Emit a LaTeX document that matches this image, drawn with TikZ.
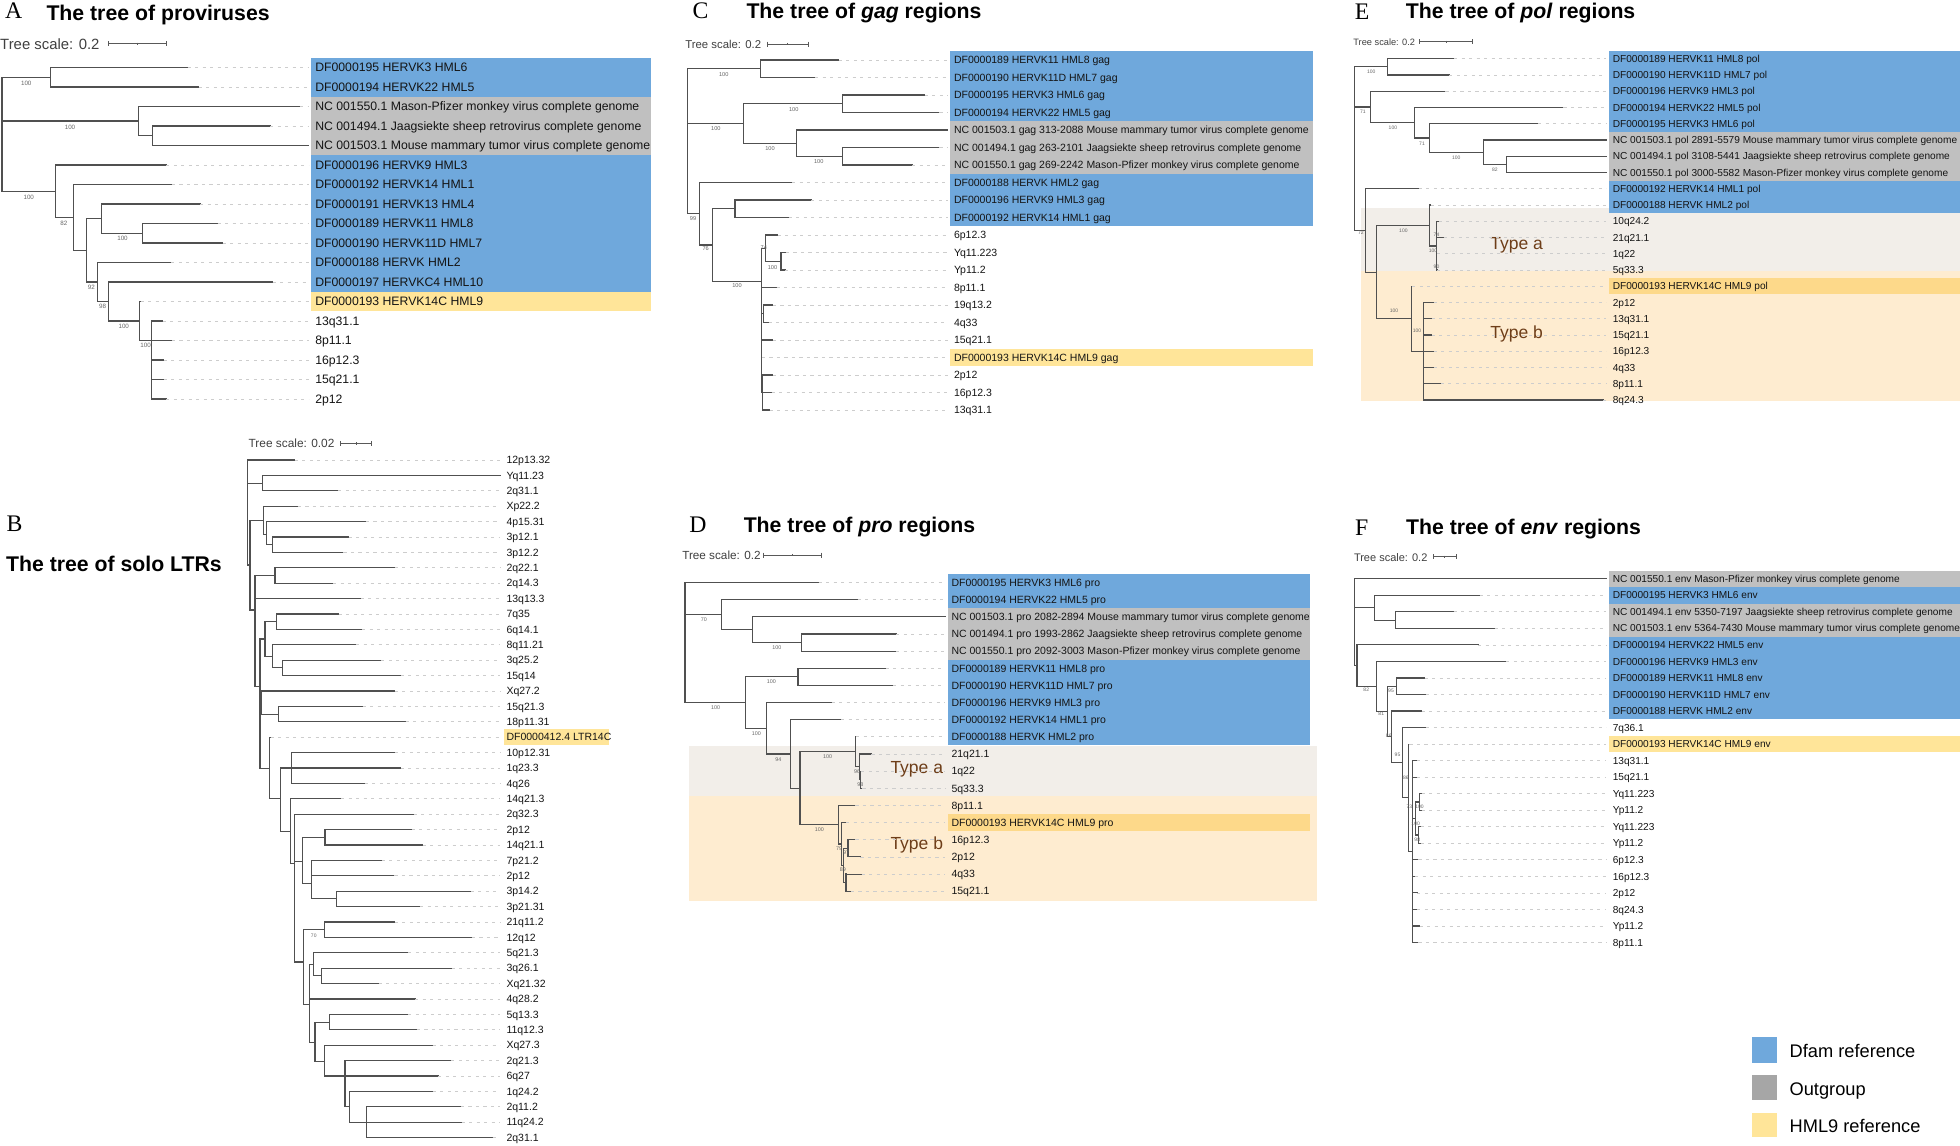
\documentclass[tikz,border=0pt]{standalone}
\usepackage{fontspec}
\setmainfont{Liberation Sans}
\newfontfamily\serifletter{Liberation Serif}
\definecolor{bblue}{RGB}{111,168,220}
\definecolor{bgray}{RGB}{192,192,192}
\definecolor{lgray}{RGB}{166,166,166}
\definecolor{byel}{RGB}{255,229,153}
\definecolor{byeltwo}{RGB}{253,217,138}
\definecolor{tya}{RGB}{242,238,233}
\definecolor{tyb}{RGB}{254,236,208}
\definecolor{tybr}{RGB}{110,62,25}
\definecolor{brc}{RGB}{80,80,80}
\definecolor{ldc}{RGB}{205,205,205}
\def\LX{0}\def\LE{0}\def\LB{3}
\def\labfont{\fontsize{8.4}{9}\selectfont}
\def\bsfont{\fontsize{4.5}{5}\selectfont}
\tikzset{
 br/.style={draw=brc, line width=0.9pt, line cap=rect},
 ld/.style={draw=ldc, line width=0.6pt, dash pattern=on 2.5pt off 3.5pt},
 lab/.style={anchor=base west, inner sep=0pt, yshift=-\LB pt, font=\labfont, text=black!92},
 bsty/.style={inner sep=0pt, font=\bsfont, text=black!60},
 ttl/.style={anchor=base west, inner sep=0pt, font=\bfseries\fontsize{17}{17}\selectfont},
 pletter/.style={anchor=base west, inner sep=0pt, font=\serifletter\fontsize{19}{19}\selectfont},
 tsc/.style={anchor=base west, inner sep=0pt, text=black!75},
 sbar/.style={draw=black!65, line width=0.7pt},
 typ/.style={anchor=base west, inner sep=0pt, text=tybr, font=\fontsize{14}{14}\selectfont},
 leg/.style={anchor=base west, inner sep=0pt, font=\fontsize{14.6}{15}\selectfont},
}
\newcommand\hb[3]{\draw[br] (#1,#3) -- (#2,#3);}
\newcommand\vb[3]{\draw[br] (#1,#2) -- (#1,#3);}
\newcommand\leaf[5]{\draw[br] (#2,#4)--(#3,#4); \draw[ld] (#3,#4)--(\LE,#4); \node[lab] (#1) at (\LX,#4) {#5};}
\newcommand\bsl[3]{\node[bsty] (#1) at (#2) {#3};}
\newcommand\sbarr[3]{\draw[sbar] (#1,#3)--(#2,#3); \draw[sbar] (#1,#3-2)--(#1,#3+2); \draw[sbar] (#2,#3-2)--(#2,#3+2); \draw[sbar] ({(#1+#2)/2},#3-1)--({(#1+#2)/2},#3+1);}
\begin{document}
\begin{tikzpicture}[x=1pt,y=-1pt]
\useasboundingbox (0,0) rectangle (1568,916);
\fill[white] (0,0) rectangle (1568,916);
% ================= Panel A
\def\LX{252}\def\LE{247}\def\LB{3.5}\def\labfont{\fontsize{9.8}{10}\selectfont}\def\bsfont{\fontsize{5}{5}\selectfont}
\node[pletter] (tA) at (4,14.7) {A};
\node[ttl] (ttA) at (37,16) {The tree of proviruses};
\node[tsc,font=\fontsize{11.9}{12}\selectfont] (scA) at (0,39.5) {Tree scale: 0.2};
\sbarr{86.8}{133.4}{35}
\fill[bblue] (249,46.2) rectangle (521,77.4);
\fill[bgray] (249,77.4) rectangle (521,124.2);
\fill[bblue] (249,124.2) rectangle (521,233.4);
\fill[byel] (249,233.4) rectangle (521,249);
\begin{scope}[br/.append style={line width=1.1pt}]
\vb{1.7}{61.8}{153}
\hb{1.7}{40.5}{61.8} \vb{40.5}{54}{69.6}
\leaf{a0}{40.5}{150}{54}{DF0000195 HERVK3 HML6}
\leaf{a1}{40.5}{159}{69.6}{DF0000194 HERVK22 HML5}
\hb{1.7}{111}{96.9} \vb{111}{85.2}{108.6}
\leaf{a2}{111}{240}{85.2}{NC 001550.1 Mason-Pfizer monkey virus complete genome}
\hb{111}{122}{108.6} \vb{122}{100.8}{116.4}
\leaf{a3}{122}{216}{100.8}{NC 001494.1 Jaagsiekte sheep retrovirus complete genome}
\leaf{a4}{122}{247}{116.4}{NC 001503.1 Mouse mammary tumor virus complete genome}
\hb{1.7}{44.6}{153} \vb{44.6}{132}{173.9}
\leaf{a5}{44.6}{133}{132}{DF0000196 HERVK9 HML3}
\hb{44.6}{59}{173.9} \vb{59}{147.6}{200.2}
\leaf{a6}{59}{137.5}{147.6}{DF0000192 HERVK14 HML1}
\hb{59}{69}{200.2} \vb{69}{174.9}{225.6}
\hb{69}{81}{174.9} \vb{81}{163.2}{186.6}
\leaf{a7}{81}{160}{163.2}{DF0000191 HERVK13 HML4}
\hb{81}{114}{186.6} \vb{114}{178.8}{194.4}
\leaf{a8}{114}{174}{178.8}{DF0000189 HERVK11 HML8}
\leaf{a9}{114}{178}{194.4}{DF0000190 HERVK11D HML7}
\hb{69}{78}{225.6} \vb{78}{210}{241.2}
\leaf{a10}{78}{137}{210}{DF0000188 HERVK HML2}
\hb{78}{87}{241.2} \vb{87}{225.6}{256.8}
\leaf{a11}{87}{218}{225.6}{DF0000197 HERVKC4 HML10}
\hb{87}{111.5}{256.8} \vb{111.5}{241.2}{272.4}
\leaf{a12}{111.5}{112.5}{241.2}{DF0000193 HERVK14C HML9}
\hb{111.5}{121}{272.4} \vb{121}{256.8}{319.2}
\leaf{a13}{121}{130}{256.8}{13q31.1}
\leaf{a14}{121}{137.5}{272.4}{8p11.1}
\leaf{a15}{121}{131}{288}{16p12.3}
\leaf{a16}{121}{131}{303.6}{15q21.1}
\leaf{a17}{121}{133}{319.2}{2p12}
\end{scope}
\bsl{bA1}{21,67}{100} \bsl{bA2}{56,102}{100} \bsl{bA3}{23,158}{100}
\bsl{bA4}{51,179}{82} \bsl{bA5}{98,191}{100} \bsl{bA6}{73,230}{92}
\bsl{bA7}{82,245}{98} \bsl{bA8}{99,261}{100} \bsl{bA9}{116.5,276}{100}
% ================= Panel B
\def\LX{405}\def\LE{400}\def\LB{3}\def\labfont{\fontsize{8.4}{9}\selectfont}\def\bsfont{\fontsize{4}{4}\selectfont}
\node[pletter] (tB) at (5,425.3) {B};
\node[ttl] (ttB) at (4.7,457.3) {The tree of solo LTRs};
\node[tsc,font=\fontsize{9.5}{10}\selectfont] (scB) at (198.7,358) {Tree scale: 0.02};
\sbarr{272}{297.5}{354.7}
\fill[byel] (403,583.5) rectangle (487,596);
\vb{197.8}{368}{452}
\leaf{b1}{197.8}{235.8}{368}{12p13.32}
\hb{197.8}{210}{386.5} \vb{210}{380.3}{392.6}
\leaf{b2}{210}{400}{380.32}{Yq11.23}
\leaf{b3}{210}{270.6}{392.64}{2q31.1}
\hb{197.8}{200}{452} \vb{200}{416.1}{488}
\hb{200}{210.8}{416.1} \vb{210.8}{405}{427.5}
\leaf{b4}{210.8}{238.3}{404.96}{Xp22.2}
\hb{210.8}{213.3}{427.5} \vb{213.3}{417.3}{435.8}
\leaf{b5}{213.3}{292.7}{417.28}{4p15.31}
\hb{213.3}{217.7}{435.8} \vb{217.7}{429.6}{441.9}
\leaf{b6}{217.7}{278.8}{429.6}{3p12.1}
\leaf{b7}{217.7}{274.7}{441.92}{3p12.2}
\hb{200}{204}{488} \vb{204}{460.4}{549}
\hb{204}{220}{460.4} \vb{220}{454.2}{466.6}
\leaf{b8}{220}{315.8}{454.24}{2q22.1}
\leaf{b9}{220}{266.5}{466.56}{2q14.3}
\leaf{b10}{204}{288.6}{478.88}{13q13.3}
\hb{204}{208}{549} \vb{208}{511.2}{614.7}
\hb{208}{212}{511.2} \vb{212}{497.4}{525}
\hb{212}{221}{497.4} \vb{221}{491.2}{503.5}
\leaf{b11}{221}{270.9}{491.2}{7q35}
\leaf{b12}{221}{289.6}{503.52}{6q14.1}
\hb{212}{217.7}{525} \vb{217.7}{515.8}{534.3}
\leaf{b13}{217.7}{284.8}{515.84}{8q11.21}
\hb{217.7}{226}{534.3} \vb{226}{528.2}{540.5}
\leaf{b14}{226}{305}{528.16}{3q25.2}
\leaf{b15}{226}{320.6}{540.48}{15q14}
\hb{208}{209.5}{562} \vb{209.5}{552.8}{571.3}
\leaf{b16}{209.5}{315.8}{552.8}{Xq27.2}
\hb{209.5}{222.8}{571.3} \vb{222.8}{565.1}{577.4}
\leaf{b17}{222.8}{290}{565.12}{15q21.3}
\leaf{b18}{222.8}{324.4}{577.44}{18p11.31}
\hb{208}{215.8}{614.7} \vb{215.8}{589.8}{638.5}
\leaf{b19}{215.8}{216.5}{589.76}{DF0000412.4 LTR14C}
\hb{215.8}{224.4}{638.5} \vb{224.4}{614.4}{665}
\hb{224.4}{233.2}{614.4} \vb{233.2}{602.1}{626.7}
\leaf{b20}{233.2}{315.8}{602.08}{10p12.31}
\leaf{b21}{233.2}{320.6}{614.4}{1q23.3}
\leaf{b22}{233.2}{291.8}{626.72}{4q26}
\hb{224.4}{232.3}{665} \vb{232.3}{639}{690.7}
\leaf{b23}{232.3}{272.8}{639.04}{14q21.3}
\hb{232.3}{235.8}{690.7} \vb{235.8}{651.4}{769.6}
\leaf{b24}{235.8}{331}{651.36}{2q32.3}
\hb{235.8}{242}{689} \vb{242}{669.8}{706.8}
\hb{242}{260}{669.8} \vb{260}{663.7}{676}
\leaf{b25}{260}{329.4}{663.68}{2p12}
\leaf{b26}{260}{338}{676}{14q21.1}
\hb{242}{249.4}{706.8} \vb{249.4}{688.3}{719.1}
\leaf{b27}{249.4}{305.4}{688.32}{7p21.2}
\leaf{b28}{249.4}{315.5}{700.64}{2p12}
\hb{249.4}{269}{719.1} \vb{269}{713}{725.3}
\leaf{b29}{269}{376.6}{712.96}{3p14.2}
\leaf{b30}{269}{336}{725.28}{3p21.31}
\hb{235.8}{242.7}{769.6} \vb{242.7}{743.8}{803.5}
\hb{242.7}{259.5}{743.8} \vb{259.5}{737.6}{749.9}
\leaf{b31}{259.5}{315.8}{737.6}{21q11.2}
\leaf{b32}{259.5}{377.5}{749.92}{12q12}
\hb{242.7}{247.5}{803.5} \vb{247.5}{771.4}{833.9}
\hb{247.5}{250.6}{771.4} \vb{250.6}{762.2}{780.7}
\leaf{b33}{250.6}{326.6}{762.24}{5q21.3}
\hb{250.6}{257.3}{780.7} \vb{257.3}{774.6}{786.9}
\leaf{b34}{257.3}{361.4}{774.56}{3q26.1}
\leaf{b35}{257.3}{303}{786.88}{Xq21.32}
\leaf{b36}{247.5}{332}{799.2}{4q28.2}
\hb{247.5}{252}{833.9} \vb{252}{817.7}{849}
\hb{252}{263.6}{817.7} \vb{263.6}{811.5}{823.8}
\leaf{b37}{263.6}{326.6}{811.52}{5q13.3}
\leaf{b38}{263.6}{333.5}{823.84}{11q12.3}
\hb{252}{259.5}{849} \vb{259.5}{836.2}{860.8}
\leaf{b39}{259.5}{346}{836.16}{Xq27.3}
\hb{259.5}{276}{860.8} \vb{276}{848.5}{885.4}
\leaf{b40}{276}{361}{848.48}{2q21.3}
\leaf{b41}{276}{350.6}{860.8}{6q27}
\hb{276}{279.4}{885.4} \vb{279.4}{873.1}{897.8}
\leaf{b42}{279.4}{346.2}{873.12}{1q24.2}
\hb{279.4}{293.4}{897.8} \vb{293.4}{885.4}{910.1}
\leaf{b43}{293.4}{368.7}{885.44}{2q11.2}
\leaf{b44}{293.4}{369.3}{897.76}{11q24.2}
\leaf{b45}{293.4}{394}{910.08}{2q31.1}
\bsl{bB1}{251,748.5}{70}
% ================= Panel C
\def\LX{763}\def\LE{758}\def\LB{3}\def\labfont{\fontsize{8.4}{9}\selectfont}\def\bsfont{\fontsize{4.5}{5}\selectfont}
\node[pletter] (tC) at (553.8,14.7) {C};
\node[ttl] (ttC) at (597,14.5) {The tree of \textit{gag} regions};
\node[tsc,font=\fontsize{9.1}{10}\selectfont] (scC) at (548,38.7) {Tree scale: 0.2};
\sbarr{614}{646.6}{35.2}
\fill[bblue] (760,41) rectangle (1050,97);
\fill[bgray] (760,97) rectangle (1050,139);
\fill[bblue] (760,139) rectangle (1050,181);
\fill[byel] (760,279) rectangle (1050,293);
\vb{549.9}{55}{171}
\hb{549.9}{608.5}{55} \vb{608.5}{48}{62}
\leaf{c0}{608.5}{671}{48}{DF0000189 HERVK11 HML8 gag}
\leaf{c1}{608.5}{652}{62}{DF0000190 HERVK11D HML7 gag}
\hb{549.9}{595}{98.75} \vb{595}{83}{114.5}
\hb{595}{674.3}{83} \vb{674.3}{76}{90}
\leaf{c2}{674.3}{739.8}{76}{DF0000195 HERVK3 HML6 gag}
\leaf{c3}{674.3}{751.5}{90}{DF0000194 HERVK22 HML5 gag}
\hb{595}{637}{114.5} \vb{637}{104}{125}
\leaf{c4}{637}{758}{104}{NC 001503.1 gag 313-2088 Mouse mammary tumor virus complete genome}
\hb{637}{674.3}{125} \vb{674.3}{118}{132}
\leaf{c5}{674.3}{751.5}{118}{NC 001494.1 gag 263-2101 Jaagsiekte sheep retrovirus complete genome}
\leaf{c6}{674.3}{729.7}{132}{NC 001550.1 gag 269-2242 Mason-Pfizer monkey virus complete genome}
\hb{549.9}{559.6}{171} \vb{559.6}{146}{196}
\leaf{c7}{559.6}{633.6}{146}{DF0000188 HERVK HML2 gag}
\hb{559.6}{570}{196} \vb{570}{167}{225}
\hb{570}{588}{167} \vb{588}{160}{174}
\leaf{c8}{588}{649}{160}{DF0000196 HERVK9 HML3 gag}
\leaf{c9}{588}{631}{174}{DF0000192 HERVK14 HML1 gag}
\hb{570}{609}{225} \vb{609}{198.5}{314}
\hb{609}{612.4}{198.5} \vb{612.4}{188}{209}
\leaf{c10}{612.4}{622}{188}{6p12.3}
\hb{612.4}{624.8}{209} \vb{624.8}{202}{216}
\leaf{c11}{624.8}{628.7}{202}{Yq11.223}
\leaf{c12}{624.8}{628.1}{216}{Yp11.2}
\leaf{c13}{609}{621.2}{230}{8p11.1}
\hb{609}{610.8}{251} \vb{610.8}{244}{258}
\leaf{c14}{610.8}{618.3}{244}{19q13.2}
\leaf{c15}{610.8}{615}{258}{4q33}
\leaf{c16}{609}{618.3}{272}{15q21.1}
\leaf{c17}{609}{609.5}{286}{DF0000193 HERVK14C HML9 gag}
\hb{609}{610}{314} \vb{610}{300}{328}
\leaf{c18}{610}{618.3}{300}{2p12}
\leaf{c19}{610}{617.3}{314}{16p12.3}
\leaf{c20}{610}{615.7}{328}{13q31.1}
\bsl{bC1}{579,59.5}{100} \bsl{bC2}{572.7,103}{100} \bsl{bC3}{635,87.4}{100}
\bsl{bC4}{616,119}{100} \bsl{bC5}{655,129}{100} \bsl{bC6}{554.4,175}{99}
\bsl{bC7}{564.5,199}{76} \bsl{bC8}{589.6,228.8}{100} \bsl{bC9}{618,213.9}{100}
\bsl{bC10}{611,198}{74}
% ================= Panel D
\def\LX{761}\def\LE{756}\def\LB{3}\def\labfont{\fontsize{8.4}{9}\selectfont}\def\bsfont{\fontsize{4.3}{5}\selectfont}
\node[pletter] (tD) at (551.2,426) {D};
\node[ttl] (ttD) at (594.8,426) {The tree of \textit{pro} regions};
\node[tsc,font=\fontsize{9.4}{10}\selectfont] (scD) at (545.6,447.3) {Tree scale: 0.2};
\sbarr{610.9}{656.8}{444.1}
\fill[tya] (551.2,597) rectangle (1053.8,636.7);
\fill[tyb] (551.2,636.7) rectangle (1053.8,721);
\fill[bblue] (758,459.1) rectangle (1048,486.6);
\fill[bgray] (758,486.6) rectangle (1048,527.7);
\fill[bblue] (758,527.7) rectangle (1048,596.3);
\fill[byeltwo] (758,651.2) rectangle (1048,665);
\node[typ] (tyDa) at (712.2,618.4) {Type a};
\node[typ] (tyDb) at (712.2,679.2) {Type b};
\vb{548}{466}{562}
\leaf{d0}{548}{654.8}{466}{DF0000195 HERVK3 HML6 pro}
\hb{548}{577.4}{491.7} \vb{577.4}{479.7}{503.7}
\leaf{d1}{577.4}{686}{479.72}{DF0000194 HERVK22 HML5 pro}
\hb{577.4}{601.7}{503.7} \vb{601.7}{493.4}{514}
\leaf{d2}{601.7}{756}{493.44}{NC 001503.1 pro 2082-2894 Mouse mammary tumor virus complete genome}
\hb{601.7}{641.4}{514} \vb{641.4}{507.16}{520.88}
\leaf{d3}{641.4}{717}{507.16}{NC 001494.1 pro 1993-2862 Jaagsiekte sheep retrovirus complete genome}
\leaf{d4}{641.4}{716.8}{520.88}{NC 001550.1 pro 2092-3003 Mason-Pfizer monkey virus complete genome}
\hb{548}{596.5}{562} \vb{596.5}{541.5}{582.6}
\hb{596.5}{638.4}{541.5} \vb{638.4}{534.6}{548.3}
\leaf{d5}{638.4}{708.6}{534.6}{DF0000189 HERVK11 HML8 pro}
\leaf{d6}{638.4}{714.5}{548.32}{DF0000190 HERVK11D HML7 pro}
\hb{596.5}{613.5}{582.6} \vb{613.5}{562}{603.2}
\leaf{d7}{613.5}{665.3}{562.04}{DF0000196 HERVK9 HML3 pro}
\hb{613.5}{632.5}{603.2} \vb{632.5}{575.8}{630.6}
\leaf{d8}{632.5}{672.9}{575.76}{DF0000192 HERVK14 HML1 pro}
\hb{632.5}{640}{630.6} \vb{640}{601.5}{659.7}
\hb{640}{684.3}{601.5} \vb{684.3}{589.5}{613.5}
\leaf{d9}{684.3}{684.8}{589.48}{DF0000188 HERVK HML2 pro}
\hb{684.3}{687.3}{613.5} \vb{687.3}{603.2}{623.8}
\leaf{d10}{687.3}{697.1}{603.2}{21q21.1}
\hb{687.3}{688.3}{623.8} \vb{688.3}{616.9}{630.6}
\leaf{d11}{688.3}{688.8}{616.92}{1q22}
\leaf{d12}{688.3}{689.9}{630.64}{5q33.3}
\hb{640}{670.9}{659.7} \vb{670.9}{644.4}{675.2}
\leaf{d13}{670.9}{684.3}{644.36}{8p11.1}
\hb{670.9}{673.5}{675.2} \vb{673.5}{658.1}{692.4}
\leaf{d14}{673.5}{676.8}{658.08}{DF0000193 HERVK14C HML9 pro}
\hb{673.5}{675}{692.4} \vb{675}{678.7}{706.1}
\hb{675}{678.4}{678.7} \vb{678.4}{671.8}{685.5}
\leaf{d15}{678.4}{684.3}{671.8}{16p12.3}
\leaf{d16}{678.4}{688.3}{685.52}{2p12}
\hb{675}{676.8}{706.1} \vb{676.8}{699.2}{713}
\leaf{d17}{676.8}{689.2}{699.24}{4q33}
\leaf{d18}{676.8}{680.7}{712.96}{15q21.1}
\bsl{bD1}{563,495.6}{70} \bsl{bD2}{621.4,518.3}{100} \bsl{bD3}{572.5,566.3}{100}
\bsl{bD4}{617.1,545.7}{100} \bsl{bD5}{605,586.8}{100} \bsl{bD6}{622.7,607.6}{94}
\bsl{bD7}{662,605.7}{100} \bsl{bD8}{655.5,664.1}{100} \bsl{bD9}{685.6,617.5}{96}
\bsl{bD10}{688.3,628.1}{98} \bsl{bD11}{671.2,679.1}{79} \bsl{bD12}{676.8,682}{97}
\bsl{bD13}{674.2,696.1}{89}
% ================= Panel E
\def\LX{1290}\def\LE{1285}\def\LB{2.9}\def\labfont{\fontsize{8.1}{9}\selectfont}\def\bsfont{\fontsize{4}{4}\selectfont}
\node[pletter] (tE) at (1083.7,15.6) {E};
\node[ttl] (ttE) at (1124.5,14.8) {The tree of \textit{pol} regions};
\node[tsc,font=\fontsize{7.4}{8}\selectfont] (scE) at (1082.5,36) {Tree scale: 0.2};
\sbarr{1135.5}{1178.1}{33.4}
\fill[tya] (1088.7,166) rectangle (1568,216.4);
\fill[tyb] (1088.7,216.4) rectangle (1568,320.5);
\fill[bblue] (1287,40.5) rectangle (1568,105.5);
\fill[bgray] (1287,105.5) rectangle (1568,144.5);
\fill[bblue] (1287,144.5) rectangle (1568,170.5);
\fill[byeltwo] (1287,222.5) rectangle (1568,235.5);
\node[typ] (tyEa) at (1192.1,199.3) {Type a};
\node[typ] (tyEb) at (1192.1,271) {Type b};
\vb{1083.7}{53.5}{184.4}
\hb{1083.7}{1110}{53.5} \vb{1110}{47}{60}
\leaf{e0}{1110}{1163.2}{47}{DF0000189 HERVK11 HML8 pol}
\leaf{e1}{1110}{1159.4}{60}{DF0000190 HERVK11D HML7 pol}
\hb{1083.7}{1096.2}{85.6} \vb{1096.2}{73}{98.2}
\leaf{e2}{1096.2}{1156.3}{73}{DF0000196 HERVK9 HML3 pol}
\hb{1096.2}{1131.4}{98.2} \vb{1131.4}{86}{110.4}
\leaf{e3}{1131.4}{1250.7}{86}{DF0000194 HERVK22 HML5 pol}
\hb{1131.4}{1143.9}{110.4} \vb{1143.9}{99}{121.75}
\leaf{e4}{1143.9}{1230.5}{99}{DF0000195 HERVK3 HML6 pol}
\hb{1143.9}{1186.5}{121.75} \vb{1186.5}{112}{131.5}
\leaf{e5}{1186.5}{1285}{112}{NC 001503.1 pol 2891-5579 Mouse mammary tumor virus complete genome}
\hb{1186.5}{1205.2}{131.5} \vb{1205.2}{125}{138}
\leaf{e6}{1205.2}{1285}{125}{NC 001494.1 pol 3108-5441 Jaagsiekte sheep retrovirus complete genome}
\leaf{e7}{1205.2}{1285}{138}{NC 001550.1 pol 3000-5582 Mason-Pfizer monkey virus complete genome}
\hb{1083.7}{1092.5}{184.4} \vb{1092.5}{151}{217.8}
\leaf{e8}{1092.5}{1135}{151}{DF0000192 HERVK14 HML1 pol}
\hb{1092.5}{1100.9}{217.8} \vb{1100.9}{180.5}{255}
\hb{1100.9}{1143.9}{180.5} \vb{1143.9}{164}{196.8}
\leaf{e9}{1143.9}{1144.5}{164}{DF0000188 HERVK HML2 pol}
\hb{1143.9}{1149.2}{196.8} \vb{1149.2}{177}{216}
\leaf{e10}{1149.2}{1151}{177}{10q24.2}
\leaf{e11}{1149.2}{1154.8}{190}{21q21.1}
\leaf{e12}{1149.2}{1149.8}{203}{1q22}
\leaf{e13}{1149.2}{1149.8}{216}{5q33.3}
\hb{1100.9}{1129.2}{255} \vb{1129.2}{229}{281}
\leaf{e14}{1129.2}{1129.8}{229}{DF0000193 HERVK14C HML9 pol}
\hb{1129.2}{1138.6}{281} \vb{1138.6}{242}{320}
\leaf{e15}{1138.6}{1147}{242}{2p12}
\leaf{e16}{1138.6}{1145.4}{255}{13q31.1}
\leaf{e17}{1138.6}{1145.4}{268}{15q21.1}
\leaf{e18}{1138.6}{1147}{281}{16p12.3}
\leaf{e19}{1138.6}{1147}{294}{4q33}
\leaf{e20}{1138.6}{1152.6}{307}{8p11.1}
\leaf{e21}{1138.6}{1282.5}{320}{8q24.3}
\bsl{bE1}{1097,57.6}{100} \bsl{bE2}{1090.3,89.5}{71} \bsl{bE3}{1114.3,102.3}{100}
\bsl{bE4}{1137.6,114.8}{71} \bsl{bE5}{1165,126}{100} \bsl{bE6}{1195.9,135.8}{82}
\bsl{bE7}{1088.7,185.8}{72} \bsl{bE8}{1122.7,184.5}{100} \bsl{bE9}{1149.2,187.9}{74}
\bsl{bE10}{1146.4,200.5}{100} \bsl{bE11}{1149.2,213.8}{90} \bsl{bE12}{1115.2,248.9}{100}
\bsl{bE13}{1133.6,264.3}{100}
% ================= Panel F
\def\LX{1290}\def\LE{1285}\def\LB{2.9}\def\labfont{\fontsize{8.1}{9}\selectfont}\def\bsfont{\fontsize{4}{4}\selectfont}
\node[pletter] (tF) at (1083.8,428) {F};
\node[ttl] (ttF) at (1124.7,427.3) {The tree of \textit{env} regions};
\node[tsc,font=\fontsize{8.8}{9}\selectfont] (scF) at (1083,448.9) {Tree scale: 0.2};
\sbarr{1146.6}{1165}{445.4}
\fill[bgray] (1287,456.4) rectangle (1568,469.6);
\fill[bblue] (1287,469.6) rectangle (1568,482.8);
\fill[bgray] (1287,482.8) rectangle (1568,509.3);
\fill[bblue] (1287,509.3) rectangle (1568,575.4);
\fill[byel] (1287,588.7) rectangle (1568,601.9);
\vb{1083.8}{463}{532.6}
\leaf{f0}{1083.8}{1285}{463}{NC 001550.1 env Mason-Pfizer monkey virus complete genome}
\hb{1083.8}{1099.7}{486.2} \vb{1099.7}{476.2}{496.1}
\leaf{f1}{1099.7}{1183.8}{476.23}{DF0000195 HERVK3 HML6 env}
\hb{1099.7}{1116.3}{496.1} \vb{1116.3}{489.45}{502.68}
\leaf{f2}{1116.3}{1162.8}{489.45}{NC 001494.1 env 5350-7197 Jaagsiekte sheep retrovirus complete genome}
\leaf{f3}{1116.3}{1195.6}{502.68}{NC 001503.1 env 5364-7430 Mouse mammary tumor virus complete genome}
\hb{1083.8}{1085.6}{532.6} \vb{1085.6}{515.9}{549.2}
\leaf{f4}{1085.6}{1182.5}{515.91}{DF0000194 HERVK22 HML5 env}
\hb{1085.6}{1101.3}{549.2} \vb{1101.3}{529.1}{569.2}
\leaf{f5}{1101.3}{1205}{529.14}{DF0000196 HERVK9 HML3 env}
\hb{1101.3}{1109.7}{569.2} \vb{1109.7}{549}{589.4}
\hb{1109.7}{1116.9}{549} \vb{1116.9}{542.4}{555.6}
\leaf{f6}{1116.9}{1139.7}{542.36}{DF0000189 HERVK11 HML8 env}
\leaf{f7}{1116.9}{1141}{555.59}{DF0000190 HERVK11D HML7 env}
\hb{1109.7}{1113}{589.4} \vb{1113}{568.8}{610}
\leaf{f8}{1113}{1137.2}{568.82}{DF0000188 HERVK HML2 env}
\hb{1113}{1122.2}{610} \vb{1122.2}{582}{638}
\leaf{f9}{1122.2}{1141}{582.05}{7q36.1}
\hb{1122.2}{1126.9}{638} \vb{1126.9}{595.3}{681}
\leaf{f10}{1126.9}{1127.5}{595.27}{DF0000193 HERVK14C HML9 env}
\hb{1126.9}{1130}{681} \vb{1130}{608.5}{754}
\leaf{f11}{1130}{1133.8}{608.5}{13q31.1}
\leaf{f12}{1130}{1133.8}{621.73}{15q21.1}
\hb{1130}{1132.5}{654.8} \vb{1132.5}{641.6}{668}
\hb{1132.5}{1135.6}{641.6} \vb{1135.6}{634.95}{648.18}
\leaf{f13}{1135.6}{1137.2}{634.95}{Yq11.223}
\leaf{f14}{1135.6}{1137.2}{648.18}{Yp11.2}
\hb{1132.5}{1134.7}{668} \vb{1134.7}{661.4}{674.6}
\leaf{f15}{1134.7}{1136.5}{661.41}{Yq11.223}
\leaf{f16}{1134.7}{1136.5}{674.64}{Yp11.2}
\leaf{f17}{1130}{1134.7}{687.86}{6p12.3}
\leaf{f18}{1130}{1132.2}{701.09}{16p12.3}
\leaf{f19}{1130}{1133.8}{714.32}{2p12}
\leaf{f20}{1130}{1133.8}{727.55}{8q24.3}
\leaf{f21}{1130}{1135.6}{740.77}{Yp11.2}
\leaf{f22}{1130}{1134.7}{754}{8p11.1}
\bsl{bF1}{1093,552}{82} \bsl{bF2}{1112.8,552.6}{95} \bsl{bF3}{1105,570.7}{81}
\bsl{bF4}{1111,588.6}{86} \bsl{bF5}{1118,604}{95} \bsl{bF6}{1124.7,622}{86}
\bsl{bF7}{1127.5,645.4}{73} \bsl{bF8}{1135.6,645.4}{100} \bsl{bF9}{1132.5,658.7}{100}
\bsl{bF10}{1133.8,672}{98}
% ================= Legend
\fill[bblue] (1401.3,829.9) rectangle (1421.3,850.1);
\fill[lgray] (1401.3,860) rectangle (1421.3,880);
\fill[byel] (1401.3,890.1) rectangle (1421.3,909.9);
\node[leg] (lg1) at (1431.5,845.8) {Dfam reference};
\node[leg] (lg2) at (1431.5,876) {Outgroup};
\node[leg] (lg3) at (1431.5,906.1) {HML9 reference};
\end{tikzpicture}
\end{document}
